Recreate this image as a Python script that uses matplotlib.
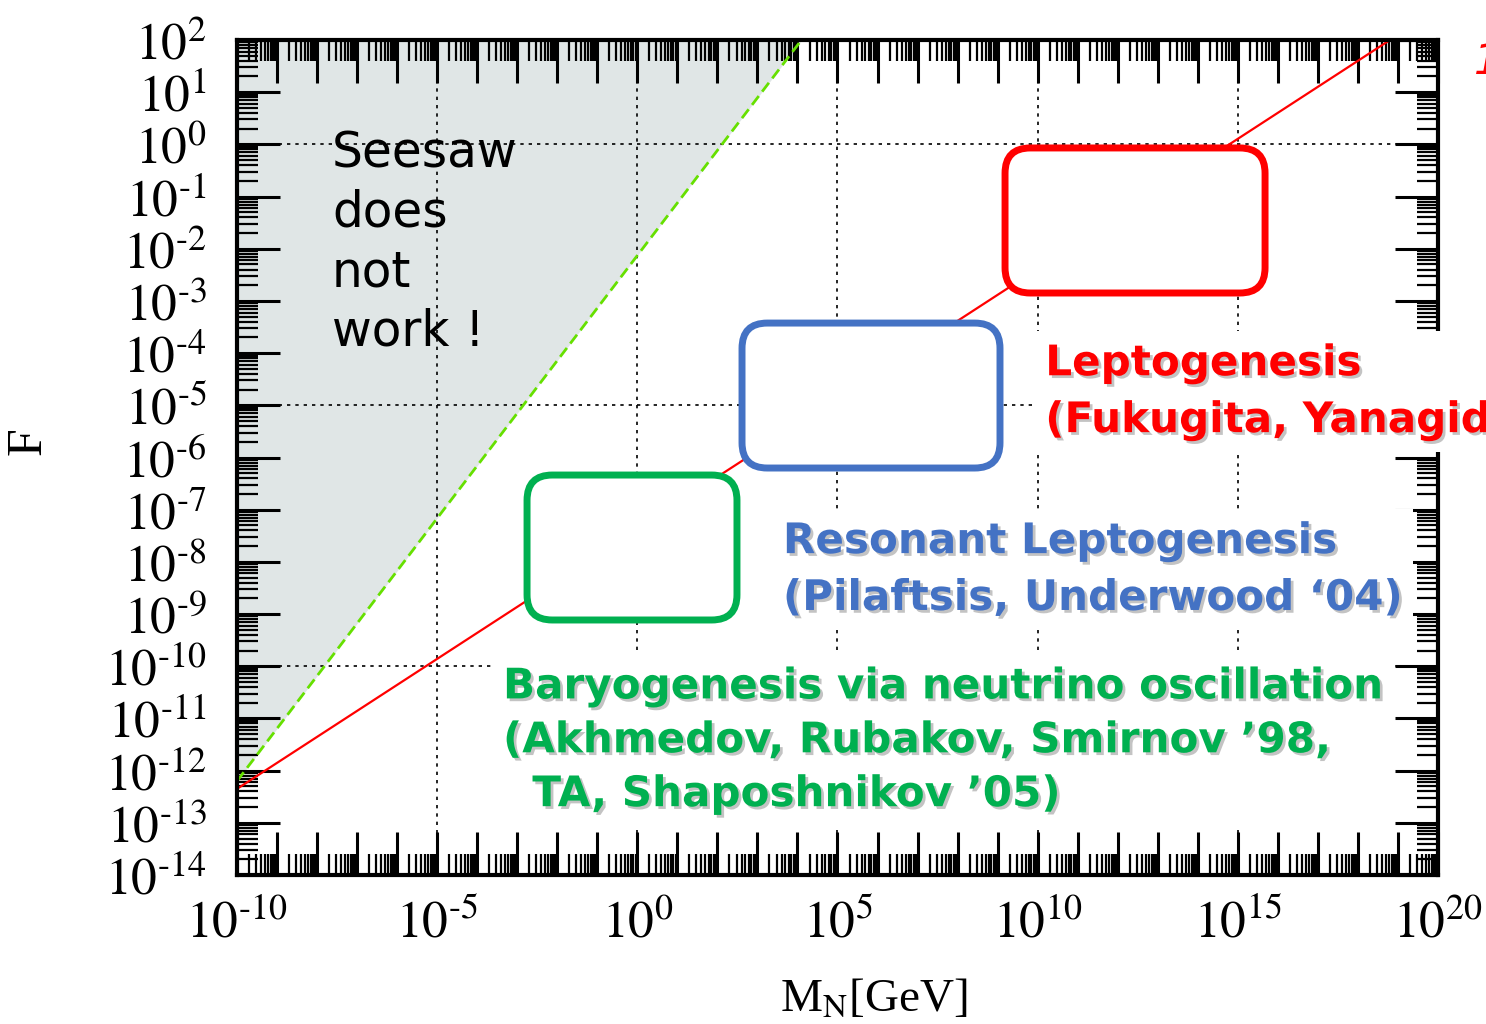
import numpy as np
import matplotlib
matplotlib.use("Agg")
import matplotlib.pyplot as plt
import matplotlib.ticker as mticker
import matplotlib.patheffects as pe
from matplotlib.patches import FancyBboxPatch

plt.rcParams['mathtext.fontset'] = 'stix'

# seesaw relation (red) and F = M_N / v boundary (green)
seesaw_M = [1e-10, 10**18.8]
seesaw_F = [10**-12.35, 1e2]
bound_M = [1e-10, 10**4.1]
bound_F = [10**-12.2, 1e2]

x_decades = np.arange(-10, 21)
y_decades = np.arange(-14, 3)
x_labelled = [-10, -5, 0, 5, 10, 15, 20]
grid_x = [1e-5, 1e0, 1e5, 1e10, 1e15]
grid_y = [1e0, 1e-5, 1e-10]

fig = plt.figure(figsize=(14.86, 10.24), dpi=100)
ax = fig.add_axes([237 / 1486, 1 - 875 / 1024, 1201 / 1486, 835 / 1024])
ax.set_xscale('log')
ax.set_yscale('log')
ax.set_xlim(1e-10, 1e20)
ax.set_ylim(1e-14, 1e2)

# shaded "seesaw does not work" region
ax.fill_between(bound_M, bound_F, [1e2, 1e2], color='#e0e6e6', lw=0, zorder=0.5)
ax.plot(bound_M, bound_F, color='#66e000', lw=2, ls=(0, (4, 2)), zorder=2)
ax.plot(seesaw_M, seesaw_F, color='#ff0000', lw=1.6, zorder=2)

for gx in grid_x:
    ax.axvline(gx, color='black', lw=1.2, ls=(0, (2, 3)), zorder=1.5)
for gy in grid_y:
    ax.axhline(gy, color='black', lw=1.2, ls=(0, (2, 3)), zorder=1.5)

# ticks
ax.xaxis.set_major_locator(mticker.FixedLocator(10.0 ** x_decades))
ax.yaxis.set_major_locator(mticker.FixedLocator(10.0 ** y_decades))
subs = np.arange(2, 10)
ax.xaxis.set_minor_locator(mticker.FixedLocator([10.0 ** d * s for d in x_decades[:-1] for s in subs]))
ax.yaxis.set_minor_locator(mticker.FixedLocator([10.0 ** d * s for d in y_decades[:-1] for s in subs]))


def exp_label(e):
    # hyphen instead of the long math minus, as in the original
    s = str(abs(e))
    if e < 0:
        s = '\u2010' + s
    return r'$10^{%s}$' % s


def xfmt(v, pos):
    e = int(round(np.log10(v)))
    return exp_label(e) if e in x_labelled else ''


def yfmt(v, pos):
    return exp_label(int(round(np.log10(v))))


ax.xaxis.set_major_formatter(mticker.FuncFormatter(xfmt))
ax.yaxis.set_major_formatter(mticker.FuncFormatter(yfmt))
ax.xaxis.set_minor_formatter(mticker.NullFormatter())
ax.yaxis.set_minor_formatter(mticker.NullFormatter())
ax.tick_params(which='both', direction='in', top=True, right=True, labelsize=37)
ax.tick_params(which='major', length=31, width=2.2)
ax.tick_params(which='minor', length=15, width=1.6)
ax.tick_params(axis='x', which='major', pad=17)
ax.tick_params(axis='y', which='major', pad=22)
for sp in ax.spines.values():
    sp.set_linewidth(3)

ax.set_xlabel(r'M$_{\rm N}$[GeV]', fontsize=34, family='Liberation Serif')
ax.set_ylabel('F', fontsize=36, family='Liberation Serif')
ax.xaxis.set_label_coords(0.53, -0.123)
ax.yaxis.set_label_coords(-0.154, 0.52)

# rounded boxes
boxes = [((0.6395, 0.697), 0.2165, 0.1737, '#ff0000'),
         ((0.4205, 0.4874), 0.2148, 0.1736, '#4472c4'),
         ((0.2415, 0.3054), 0.1748, 0.1736, '#00b050')]
for (bx, by), bw, bh, col in boxes:
    ax.add_patch(FancyBboxPatch((bx, by), bw, bh, transform=ax.transAxes,
                                boxstyle='round,pad=0,rounding_size=0.021',
                                mutation_aspect=1.44, facecolor='white',
                                edgecolor=col, lw=5, zorder=4, clip_on=False))

shadow = [pe.SimplePatchShadow(offset=(2, -2), shadow_rgbFace='#888888', alpha=0.5), pe.Normal()]
ax.text(0.079, 0.893, 'Seesaw\ndoes\nnot\nwork !', transform=ax.transAxes,
        fontsize=35, va='top', ha='left', color='black', linespacing=1.3, zorder=3)
ax.text(0.673, 0.638, 'Leptogenesis\n(Fukugita, Yanagida \u201986)', transform=ax.transAxes,
        fontsize=30.3, fontweight='bold', color='#ff0000', va='top', ha='left',
        linespacing=1.45, zorder=5, clip_on=False, path_effects=shadow,
        bbox=dict(facecolor='white', edgecolor='none', pad=8))
ax.text(0.4546, 0.425, 'Resonant Leptogenesis\n(Pilaftsis, Underwood \u201804)', transform=ax.transAxes,
        fontsize=30.3, fontweight='bold', color='#4472c4', va='top', ha='left',
        linespacing=1.45, zorder=2.2, path_effects=shadow,
        bbox=dict(facecolor='white', edgecolor='none', pad=8))
ax.text(0.2215, 0.251, 'Baryogenesis via neutrino oscillation\n(Akhmedov, Rubakov, Smirnov \u201998,\n  TA, Shaposhnikov \u201905)',
        transform=ax.transAxes, fontsize=30.3, fontweight='bold', color='#00b050',
        va='top', ha='left', linespacing=1.36, zorder=2.2, path_effects=shadow,
        bbox=dict(facecolor='white', edgecolor='none', pad=8))

fig.text(1474 / 1486, 1 - 62 / 1024, '1', color='#ff0000', fontsize=30,
         style='italic', va='center', ha='left')

fig.savefig('out.png', dpi=100)
